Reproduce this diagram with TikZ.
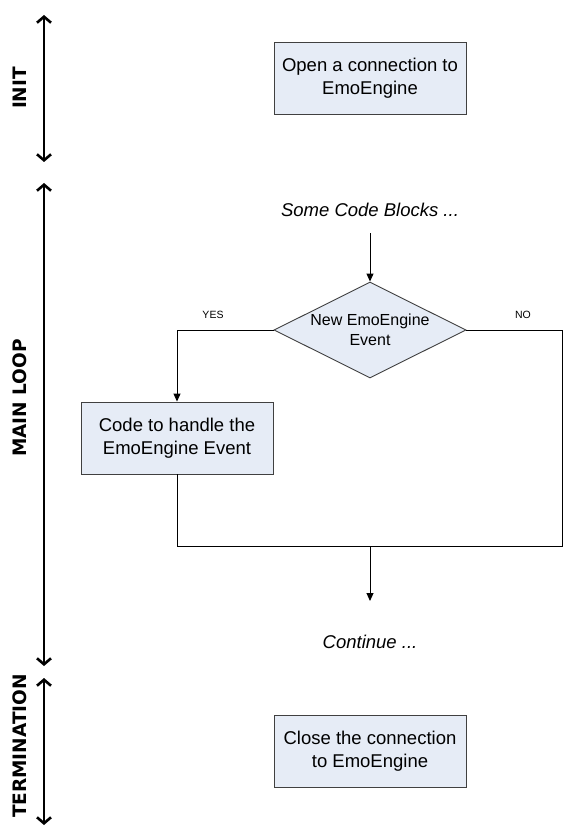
\documentclass[tikz,border=0pt]{standalone}
\usepackage{fontspec}
\setmainfont{Liberation Sans}
\newfontfamily\sidefont{DejaVu Sans}
\usetikzlibrary{arrows.meta,shapes.geometric}
\definecolor{boxfill}{HTML}{E6ECF6}
\tikzset{
  box/.style={draw=black!75, fill=boxfill, line width=0.9pt, minimum width=192pt, minimum height=72pt, align=center, inner sep=0pt, font=\fontsize{18.5pt}{23pt}\selectfont},
  dia/.style={diamond, draw=black!75, fill=boxfill, line width=0.9pt, minimum width=192pt, minimum height=96pt, aspect=2, inner sep=0pt, align=center, font=\fontsize{16pt}{20pt}\selectfont},
  phase/.style={line width=2.6pt, {Straight Barb[length=6pt,width=14pt]}-{Straight Barb[length=6pt,width=14pt]}},
  phaselabel/.style={rotate=90, font=\sidefont\bfseries\fontsize{18.5pt}{20pt}\selectfont},
  flow/.style={line width=1pt, -{Triangle[length=8pt,width=7pt]}},
  link/.style={line width=1pt},
  note/.style={font=\itshape\fontsize{18.5pt}{22pt}\selectfont},
  tag/.style={font=\fontsize{10.5pt}{12pt}\selectfont}
}
\begin{document}
\begin{tikzpicture}[x=1pt,y=-1pt]
\useasboundingbox (0,0) rectangle (579,837);
% phases
\coordinate (i1) at (44,15); \coordinate (i2) at (44,162);
\coordinate (m1) at (44,183); \coordinate (m2) at (44,666);
\coordinate (t1) at (44,678); \coordinate (t2) at (44,825);
\draw[phase] (i1) -- (i2);
\draw[phase] (m1) -- (m2);
\draw[phase] (t1) -- (t2);
\node[phaselabel] (linit) at (20,88) {INIT};
\node[phaselabel] (lmain) at (20,398) {MAIN LOOP};
\node[phaselabel] (lterm) at (20,746) {TERMINATION};
% nodes
\node[box] (open) at (370,78) {Open a connection to\\EmoEngine};
\node[note] (some) at (370,210) {Some Code Blocks ...};
\node[dia] (event) at (370,330) {New EmoEngine\\Event};
\node[box] (handle) at (177,438) {Code to handle the\\EmoEngine Event};
\node[note] (cont) at (370,642) {Continue ...};
\node[box] (close) at (370,751) {Close the connection\\to EmoEngine};
\coordinate (s1) at (370,233);
\coordinate (j) at (370,546);
\coordinate (j2) at (370,601);
\coordinate (rc) at (562,546);
\node[tag] (yes) at (213,315) {YES};
\node[tag] (no) at (523,315) {NO};
% connectors
\draw[flow] (s1) -- (event.north);
\draw[flow] (event.west) -| (handle.north);
\draw[link] (handle.south) |- (rc) |- (event.east);
\draw[flow] (j) -- (j2);
\end{tikzpicture}
\end{document}
